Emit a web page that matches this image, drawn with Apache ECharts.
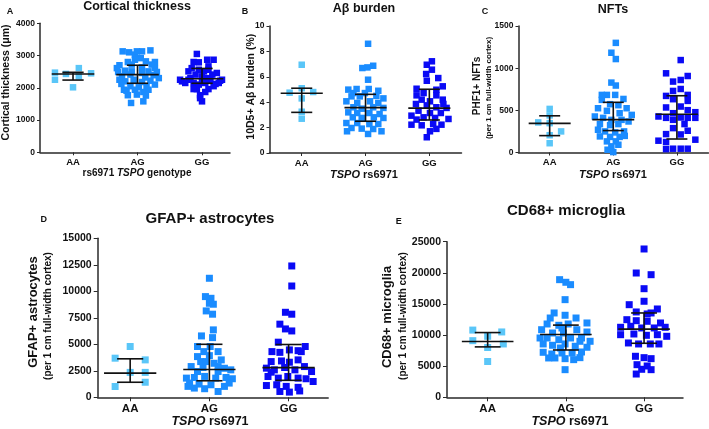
<!DOCTYPE html>
<html><head><meta charset="utf-8">
<script src="https://cdn.jsdelivr.net/npm/echarts@6/dist/echarts.min.js"></script>
<style>html,body{margin:0;padding:0;background:#fff}#c{width:709px;height:429px}</style>
</head><body><div id="c"></div>
<script>
// ---------- data (x jitter offset within category, value) ----------
const categories = ['AA', 'AG', 'GG'];

const thicknessAA = [[-0.28,2470],[-0.28,2250],[-0.11,2430],[0.09,2610],[0.09,2355],[0,2015],[0.28,2450]];
const thicknessAG = [[-0.23,3130],[-0.13,3100],[-0.04,3030],[0.07,3130],[0.20,3160],[0.05,2920],[-0.15,2800],[0.13,2820],[0.27,2800],[-0.28,2700],[-0.09,2720],[0.07,2630],[0.27,2610],[-0.30,2490],[-0.19,2530],[0.17,2510],[0.30,2490],[-0.24,2355],[-0.11,2410],[0.12,2320],[0.25,2390],[-0.19,2200],[-0.06,2250],[0.07,2180],[0.20,2220],[-0.25,2120],[-0.11,2050],[0.02,2015],[0.14,2050],[-0.17,1910],[-0.04,1940],[0.09,1870],[-0.15,1770],[-0.01,1790],[0.13,1760],[-0.10,1530],[0.09,1580],[-0.32,2610],[0.22,2720],[-0.28,2250],[0.27,2100],[-0.04,2870],[0.07,2460],[-0.09,2510],[0.17,1940],[-0.01,3130],[-0.21,1940],[0.33,2300]];
const thicknessGG = [[-0.08,3050],[-0.13,2800],[0.08,2870],[0.18,2870],[-0.21,2510],[-0.05,2560],[0.10,2665],[0.23,2460],[-0.18,2300],[-0.31,2200],[0,2355],[0.13,2250],[0.28,2220],[-0.26,2150],[-0.13,2150],[0.05,2150],[0.21,2120],[-0.08,1960],[0.10,1960],[-0.03,1770],[0,1580],[0.05,1870],[-0.21,2250],[0.16,2410],[-0.10,2410],[0.26,2150],[-0.16,2610],[0.03,2510],[-0.34,2250],[0.31,2250],[-0.05,2100],[0.08,2300],[-0.13,1960],[0.18,2050],[0,2200],[0.10,2560],[-0.05,2790],[-0.03,1680]];
const thicknessStats = [[2430,2240,2480],[2410,2140,2700],[2280,2140,2600]]; // median, Q1, Q3

const burdenAA = [[0,6.95],[-0.19,4.75],[0,5.1],[0.18,4.8],[0,4.3],[0,3.25],[0,2.7]];
const burdenAG = [[0.04,8.6],[-0.05,6.69],[0.03,6.74],[0.12,6.87],[0.04,5.77],[-0.27,4.99],[-0.14,5.04],[0.05,5.04],[0.20,4.9],[-0.22,4.46],[-0.09,4.46],[0.17,4.5],[0.28,4.3],[-0.30,4.07],[-0.13,3.94],[0.07,4.07],[0.20,3.94],[-0.19,3.6],[-0.06,3.49],[0.12,3.6],[0.28,3.55],[-0.27,3.2],[-0.13,3.15],[0.06,3.15],[0.22,3.07],[-0.20,2.81],[-0.06,2.76],[0.13,2.81],[0.28,2.76],[-0.30,2.36],[-0.13,2.36],[0.06,2.28],[0.20,2.28],[-0.22,1.97],[-0.06,1.92],[0.12,1.89],[-0.29,1.71],[0.04,1.5],[0.25,1.71],[-0.01,4.72],[-0.19,4.72]];
const burdenGG = [[0.04,7.22],[-0.04,6.95],[0.04,6.56],[-0.05,6.22],[-0.04,5.69],[-0.20,5.06],[0.11,4.98],[0.21,5.25],[-0.09,4.72],[0.11,4.54],[-0.12,4.2],[0.01,4.07],[0.21,4.2],[-0.21,3.86],[-0.04,3.75],[0.11,3.6],[0.27,3.55],[-0.17,3.33],[0.01,3.15],[0.18,3.15],[-0.28,2.94],[-0.09,2.81],[0.09,2.76],[0.30,2.68],[-0.28,2.23],[-0.12,2.18],[0.06,2.28],[0.19,2.23],[0.01,1.71],[-0.04,1.24],[0.14,5.9],[-0.20,4.54],[0.22,3.86],[-0.20,2.63],[0.11,1.9]];
const burdenStats = [[4.7,3.2,5.1],[3.57,2.5,4.62],[3.53,2.6,5.02]];

const nftAA = [[0,517],[-0.18,357],[0,348],[0,440],[0.18,250],[0,205],[0,110]];
const nftAG = [[0.04,1300],[-0.03,1183],[0.04,1108],[-0.03,829],[0.04,794],[-0.10,683],[0.03,683],[0.16,635],[-0.18,624],[-0.05,573],[0.08,561],[-0.24,525],[-0.10,494],[0.29,446],[-0.29,427],[-0.16,411],[-0.03,387],[0.13,387],[-0.21,337],[-0.05,325],[0.08,337],[0.24,368],[-0.13,250],[0.03,238],[0.17,250],[-0.21,191],[-0.05,185],[0.10,185],[-0.10,132],[0.04,132],[-0.03,73],[0,5],[0.10,466],[-0.24,270],[0.18,197],[-0.18,683],[0.21,525],[-0.09,33],[0.08,92]];
const nftGG = [[0.06,1096],[-0.17,939],[-0.06,841],[0.06,860],[0.17,907],[-0.06,730],[0.06,753],[-0.17,671],[0.17,683],[-0.06,632],[0.17,612],[-0.17,534],[0.06,545],[0.17,502],[0.29,478],[-0.29,427],[-0.17,411],[-0.06,466],[0.06,415],[0.17,411],[0.29,411],[-0.06,289],[0.17,258],[-0.17,218],[0.06,214],[-0.29,140],[-0.17,124],[0.29,152],[-0.06,45],[0.06,45],[0.17,45],[-0.17,40],[0.12,337],[-0.06,387]];
const nftStats = [[345,200,435],[390,260,595],[453,160,673]];

const gfapAA = [[0,4790],[-0.19,3690],[0.19,3530],[0,2350],[0.19,2350],[0.19,1420],[-0.19,1020]];
const gfapAG = [[0,11230],[-0.05,9500],[0.02,9340],[0,8870],[0.05,8780],[-0.04,8150],[0.04,7840],[0.05,6360],[-0.10,5790],[0.04,5630],[-0.15,4790],[0.01,4790],[-0.07,4310],[0.11,4310],[-0.15,3840],[0,3930],[0.15,3530],[-0.11,3370],[0.06,3210],[-0.23,2900],[-0.08,2810],[0.19,2740],[0.27,2590],[-0.15,2430],[0.11,2430],[-0.29,1810],[-0.19,1870],[-0.06,1970],[0.08,1810],[0.21,1870],[0.29,1750],[-0.25,1340],[-0.13,1250],[0.02,1180],[0.25,1340],[-0.19,870],[-0.06,810],[0.11,550],[-0.27,1030],[0.19,1030],[-0.04,3370],[0.11,2900]];
const gfapGG = [[0.04,12390],[0.04,10500],[-0.04,8020],[0.04,7840],[-0.11,6900],[-0.04,6450],[0.04,6260],[-0.21,4310],[-0.11,4240],[0.01,4470],[0.12,4400],[0.21,4790],[-0.13,5200],[-0.22,3370],[-0.09,3430],[0.01,3310],[0.12,3530],[0.20,2900],[-0.28,2750],[-0.18,2590],[-0.05,2810],[0.08,2590],[0.29,2430],[-0.26,1960],[-0.13,1810],[-0.01,1960],[0.12,1810],[0.22,1750],[0.31,1490],[-0.28,1110],[-0.15,1180],[-0.03,1030],[0.12,940],[-0.11,550],[0.01,490],[0.14,600],[-0.22,2370],[0.16,4310]];
const gfapStats = [[2280,1420,3630],[2620,1560,5000],[2800,1600,4980]];

const cd68AA = [[-0.19,10800],[0.18,10500],[0,9800],[-0.19,9100],[0.20,8570],[0,8000],[0,5750]];
const cd68AG = [[-0.08,18900],[0,18480],[0.06,18100],[-0.01,15690],[-0.15,13550],[-0.01,13180],[0.13,12740],[-0.24,11780],[-0.09,11570],[0.03,11780],[0.27,11940],[-0.31,10860],[-0.17,10330],[-0.03,10330],[0.14,10860],[0.27,10490],[-0.24,9530],[-0.09,9260],[0.06,9530],[0.20,9530],[-0.29,8570],[-0.17,8360],[-0.01,8570],[0.12,8200],[0.27,8040],[-0.29,7230],[-0.18,6960],[-0.05,7120],[0.08,7120],[0.20,7280],[-0.14,6320],[-0.01,6210],[0.10,6050],[-0.01,4440],[-0.05,11140],[-0.20,12740],[0.18,9000],[-0.33,9530],[-0.07,7920],[0.18,6370],[0.31,9000],[-0.22,6320]];
const cd68GG = [[0,23830],[-0.10,19970],[0.09,19700],[0,17450],[0,15430],[-0.19,14880],[0.17,14190],[-0.10,13710],[0.09,13550],[-0.22,12470],[-0.10,12310],[0.04,12210],[0.21,11940],[-0.30,11250],[-0.17,11410],[-0.03,11140],[0.13,11140],[0.27,11250],[-0.30,10060],[-0.13,10170],[0.03,9960],[0.17,10060],[0.29,9800],[-0.20,8730],[-0.07,8570],[0.08,8570],[0.19,8570],[-0.11,6590],[0,6370],[0.09,6210],[-0.09,5240],[0.04,5030],[-0.10,3740],[0.09,4440],[-0.03,4500],[0.04,13390]];
const cd68Stats = [[8970,8100,10400],[10100,7600,11600],[10950,8680,13550]];

// ---------- styling / layout ----------
const groupColors = ['#5ac6f8', '#1a8cff', '#0a0af5'];
const FONT = '"Liberation Sans", Arial, sans-serif';
const panels = [
  {groups:[thicknessAA,thicknessAG,thicknessGG], stats:thicknessStats, max:4000, interval:1000,
   grid:[40,23.3,190,129], a:0.512, b:0.434, sym:6.5, tickFs:8.5, catFs:9.5, small:true},
  {groups:[burdenAA,burdenAG,burdenGG], stats:burdenStats, max:10, interval:2,
   grid:[269.5,26,192,127], a:0.505, b:0.504, sym:6.5, tickFs:8.5, catFs:9.5, small:true},
  {groups:[nftAA,nftAG,nftGG], stats:nftStats, max:1500, interval:500,
   grid:[518.5,26,190,126.5], a:0.49, b:0.497, sym:6.5, tickFs:8.5, catFs:9.5, small:true},
  {groups:[gfapAA,gfapAG,gfapGG], stats:gfapStats, max:15000, interval:2500,
   grid:[97.7,238.3,230.5,159], a:0.41, b:0.5, sym:7, tickFs:10.5, catFs:11.5, small:false},
  {groups:[cd68AA,cd68AG,cd68GG], stats:cd68Stats, max:25000, interval:5000,
   grid:[447,241.7,236,155.6], a:0.52, b:0.498, sym:7, tickFs:10.5, catFs:11.5, small:false}
];

const axisColor = '#2a2a2a';
function errRender(params, api) {
  const x = api.value(0), med = api.value(1), q1 = api.value(2), q3 = api.value(3);
  const L = (p1, p2) => ({type:'line', shape:{x1:p1[0],y1:p1[1],x2:p2[0],y2:p2[1]},
                          style:{stroke:'#111', lineWidth:1.6}});
  return {type:'group', children:[
    L(api.coord([x-0.33, med]), api.coord([x+0.33, med])),
    L(api.coord([x, q1]), api.coord([x, q3])),
    L(api.coord([x-0.165, q1]), api.coord([x+0.165, q1])),
    L(api.coord([x-0.165, q3]), api.coord([x+0.165, q3]))
  ]};
}

const grid = [], xAxis = [], yAxis = [], series = [];
panels.forEach((p, i) => {
  grid.push({left:p.grid[0], top:p.grid[1], width:p.grid[2], height:p.grid[3]});
  const tl = p.small ? 3 : 4;
  xAxis.push({gridIndex:i, type:'value', min:-p.a, max:2+p.b,
    axisLine:{show:true, onZero:false, lineStyle:{color:axisColor, width:1.5}},
    axisTick:{show:true, customValues:[0,1,2], length:tl, lineStyle:{color:axisColor, width:1}},
    axisLabel:{show:true, customValues:[0,1,2], formatter:v => categories[Math.round(v)],
      margin:p.small?5:6, fontSize:p.catFs, fontWeight:'bold', color:'#111', fontFamily:FONT},
    splitLine:{show:false}});
  yAxis.push({gridIndex:i, type:'value', min:0, max:p.max, interval:p.interval,
    axisLine:{show:true, onZero:false, lineStyle:{color:axisColor, width:1.5}},
    axisTick:{show:true, length:tl, lineStyle:{color:axisColor, width:1}},
    axisLabel:{margin:p.small?5:6, fontSize:p.tickFs, fontWeight:'bold', color:'#111', fontFamily:FONT,
      formatter:v => String(v)},
    splitLine:{show:false}});
  p.groups.forEach((g, k) => {
    series.push({type:'scatter', xAxisIndex:i, yAxisIndex:i, symbol:'rect', symbolSize:p.sym,
      data:g.map(d => [k + d[0], d[1]]), itemStyle:{color:groupColors[k], opacity:1},
      silent:true, animation:false, z:2});
  });
  series.push({type:'custom', xAxisIndex:i, yAxisIndex:i, renderItem:errRender,
    data:p.stats.map((s, k) => [k, s[0], s[1], s[2]]), silent:true, animation:false, z:5});
});

function txt(text, x, y, size, opts) {
  opts = opts || {};
  return {type:'text', x:x, y:y, rotation:opts.rot || 0, silent:true,
    style:{text:text, fontSize:size, fontWeight:opts.weight || 'bold', fontFamily:FONT,
      fill:'#111', align:'center', verticalAlign:'middle', textAlign:'center', textVerticalAlign:'middle',
      rich:opts.rich}};
}
const R = Math.PI / 2;
const it = s => ({fontSize:s, fontWeight:'bold', fontStyle:'italic', fontFamily:FONT, fill:'#111'});
const nm = s => ({fontSize:s, fontWeight:'bold', fontFamily:FONT, fill:'#111'});
const graphic = [
  txt('Cortical thickness', 137, 6.5, 12.5),
  txt('Aβ burden', 364, 9, 12.5),
  txt('NFTs', 613, 10, 12.5),
  txt('GFAP+ astrocytes', 210, 219, 15),
  txt('CD68+ microglia', 566, 210.5, 15),
  txt('A', 10, 12, 9), txt('B', 245, 11.3, 9), txt('C', 485, 11.7, 9),
  txt('D', 43.7, 220, 9), txt('E', 398.7, 222, 9),
  txt('Cortical thickness (μm)', 6, 82.5, 10.5, {rot:R}),
  txt('10D5+ Aβ burden (%)', 251, 86.7, 10.5, {rot:R}),
  txt('PHF1+ NFTs', 477.5, 86, 10, {rot:R}),
  txt('(per 1 cm full-width cortex)', 489, 88, 8, {rot:R}),
  txt('GFAP+ astrocytes', 33, 312, 13, {rot:R}),
  txt('(per 1 cm full-width cortex)', 48.5, 316, 10, {rot:R}),
  txt('CD68+ microglia', 387.5, 317, 13, {rot:R}),
  txt('(per 1 cm full-width cortex)', 403, 316, 10, {rot:R}),
  txt('{n|rs6971 }{i|TSPO}{n| genotype}', 137, 173, 10, {rich:{n:nm(10), i:it(10)}}),
  txt('{i|TSPO}{n| rs6971}', 364, 175, 11, {rich:{n:nm(11), i:it(11)}}),
  txt('{i|TSPO}{n| rs6971}', 613, 175, 11, {rich:{n:nm(11), i:it(11)}}),
  txt('{i|TSPO}{n| rs6971}', 210, 422, 12.5, {rich:{n:nm(12.5), i:it(12.5)}}),
  txt('{i|TSPO}{n| rs6971}', 570, 422, 12.5, {rich:{n:nm(12.5), i:it(12.5)}})
];

const chart = echarts.init(document.getElementById('c'), null, {renderer:'canvas'});
chart.setOption({
  animation:false, backgroundColor:'#fff',
  textStyle:{fontFamily:FONT},
  grid:grid, xAxis:xAxis, yAxis:yAxis, series:series, graphic:graphic
});
</script></body></html>
